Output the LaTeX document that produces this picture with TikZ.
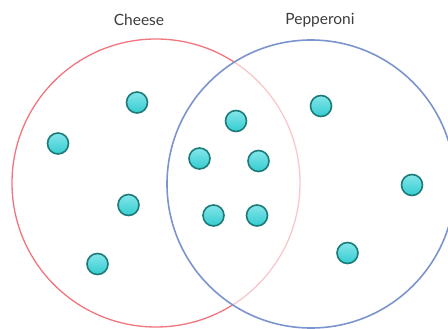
\documentclass[tikz,border=0pt]{standalone}
\usepackage{fontspec}
\setmainfont{Lato}
\definecolor{setred}{RGB}{242,116,126}
\definecolor{setblue}{RGB}{124,148,206}
\definecolor{labelgray}{RGB}{60,60,60}
\definecolor{dotedge}{RGB}{28,122,120}
\definecolor{dottop}{RGB}{132,230,234}
\definecolor{dotbottom}{RGB}{52,204,208}
\begin{document}
\begin{tikzpicture}[x=1pt,y=-1pt,
  setlabel/.style={font=\fontsize{15.5}{18}\selectfont, text=labelgray, inner sep=0pt},
  item/.style={circle, minimum size=21pt, inner sep=0pt, draw=dotedge, line width=1.6pt,
    top color=dottop, bottom color=dotbottom}]
\useasboundingbox (0,0) rectangle (448,329);
\begin{scope}
\clip (0,0) rectangle (448,329);
% the two sets; the second one washes out the first where they overlap
\draw[setred, line width=1.3pt] (156,183) circle (144);
\draw[setblue, line width=1.6pt, fill=white, fill opacity=0.6] (311,184) circle (144);
\end{scope}
% set titles
\node[setlabel] (cheese) at (139,20) {Cheese};
\node[setlabel] (pepperoni) at (320,20) {Pepperoni};
% elements
\node[item] (e1) at (137,102.5) {};
\node[item] (e2) at (58,143.5) {};
\node[item] (e3) at (236,121) {};
\node[item] (e4) at (199.5,158.5) {};
\node[item] (e5) at (258.5,161) {};
\node[item] (e6) at (128.5,205) {};
\node[item] (e7) at (213.5,215.5) {};
\node[item] (e8) at (257,215.5) {};
\node[item] (e9) at (97.5,264) {};
\node[item] (e10) at (321,106) {};
\node[item] (e11) at (412,185) {};
\node[item] (e12) at (347.5,253) {};
\end{tikzpicture}
\end{document}
